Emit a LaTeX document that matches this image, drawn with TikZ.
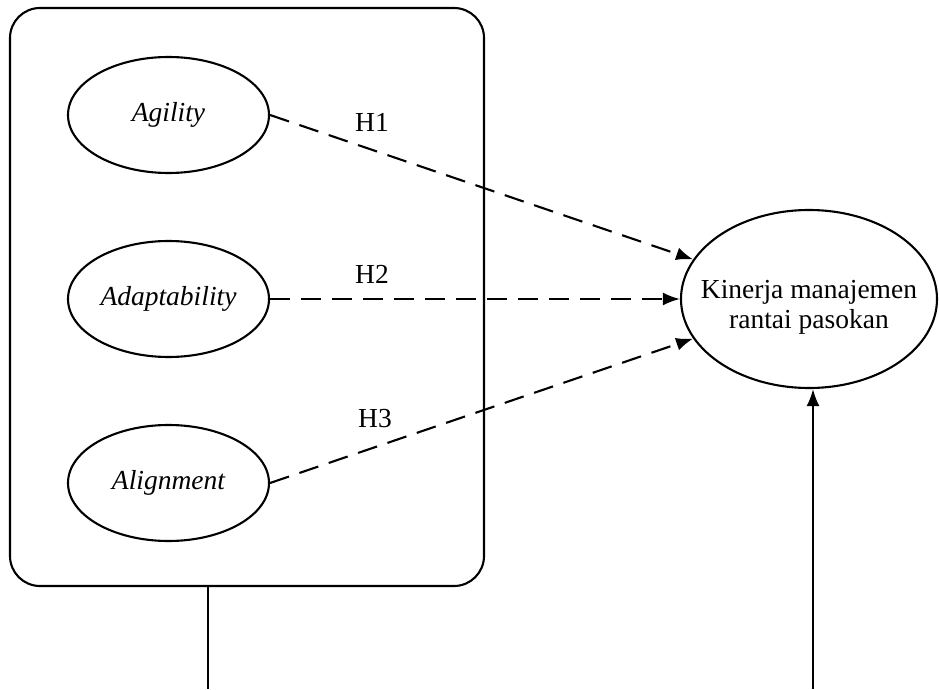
\documentclass[tikz,border=0pt]{standalone}
\usepackage{fontspec}
\setmainfont{Liberation Serif}
\usetikzlibrary{arrows.meta,positioning,shapes.geometric}

\begin{document}
\begin{tikzpicture}[
  x=1pt,y=1pt,
  font=\fontsize{27.5}{30}\selectfont,
  >=Latex,
  line width=2.1pt,
  arrow/.style={-{Latex[length=17pt,width=13pt]},line width=2.1pt},
  hyparrow/.style={arrow,dash pattern=on 20pt off 11pt},
  groupbox/.style={draw,rounded corners=30pt,inner sep=0pt,
    minimum width=474pt,minimum height=578pt},
  varnode/.style={draw,ellipse,inner sep=0pt,minimum width=201pt,
    minimum height=116pt,font=\fontsize{27.5}{30}\selectfont\itshape},
  outcome/.style={draw,ellipse,inner xsep=-18pt,inner ysep=0pt,
    minimum width=256pt,minimum height=178pt,align=center},
  hlabel/.style={inner sep=0pt}
]
\useasboundingbox (0,0) rectangle (939,689);

% Grouping box with the three independent variables.
\node[groupbox] (group) at (247,392) {};
\node[varnode] (agility) at (168.5,574) {Agility};
\node[varnode] (adapt) at (168.5,390) {Adaptability};
\node[varnode] (align) at (168.5,206) {Alignment};

% Dependent variable.
\node[outcome] (perf) at (809,390) {\rule{0pt}{34pt}Kinerja manajemen\\rantai pasokan};

% Hypotheses.
\draw[hyparrow] (agility.east) -- (perf);
\draw[hyparrow] (adapt.east) -- (perf.west);
\draw[hyparrow] (align.east) -- (perf);
\node[hlabel] (h1) at (372,567) {H1};
\node[hlabel] (h2) at (372,415) {H2};
\node[hlabel] (h3) at (375,270) {H3};

% Links leaving the picture at the bottom.
\coordinate (groupfoot) at (208,0);
\coordinate (perffoot) at (813,0);
\draw (group.south -| groupfoot) -- (groupfoot);
\draw[arrow] (perffoot) -- (perffoot |- perf.south);
\end{tikzpicture}
\end{document}
